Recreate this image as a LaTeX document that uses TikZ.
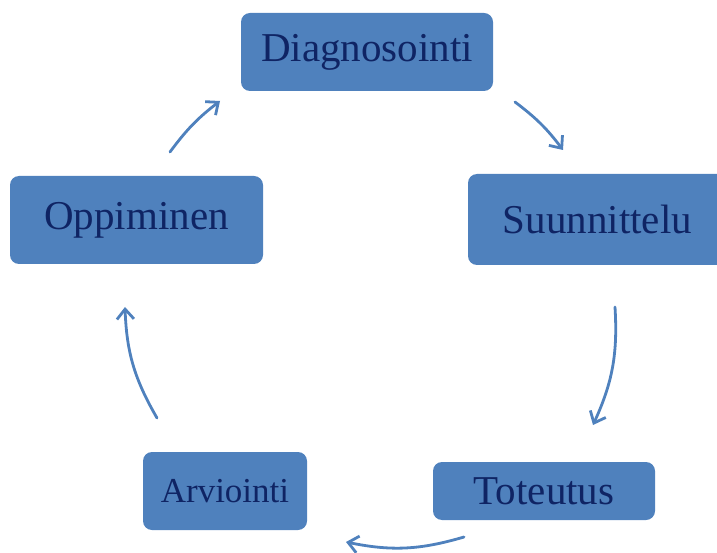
\documentclass[tikz,border=0pt]{standalone}
\usepackage{fontspec}
\setmainfont{Liberation Serif}
\usetikzlibrary{arrows.meta}

\definecolor{boxblue}{RGB}{79,129,189}
\definecolor{textnavy}{RGB}{15,36,100}

\begin{document}
\begin{tikzpicture}[x=1pt, y=1pt,
    phase/.style={fill=boxblue, rounded corners=9pt, text=textnavy,
        font=\fontsize{41}{41}\selectfont, inner sep=0pt},
    flow/.style={draw=boxblue, line width=2.8pt, line cap=round,
        -{Straight Barb[length=10pt, width=17pt]}}]
    \useasboundingbox (0,0) rectangle (717,552);

    % The five phases of the cycle
    \node[phase, minimum width=252pt, minimum height=78pt] (diag) at (367,500) {Diagnosointi};
    \node[phase, minimum width=259pt, minimum height=91pt] (suun) at (597.5,332.5) {Suunnittelu};
    \node[phase, minimum width=222pt, minimum height=58pt] (tot) at (544,61) {Toteutus};
    \node[phase, minimum width=164pt, minimum height=78pt,
        font=\fontsize{35}{35}\selectfont] (arv) at (225,61) {Arviointi};
    \node[phase, minimum width=253pt, minimum height=88pt] (opp) at (136.5,332) {Oppiminen};

    % Ends of the arrows, on a circle round the middle
    \coordinate (a1) at (515,450);  \coordinate (b1) at (563,402);
    \coordinate (a2) at (615,245);  \coordinate (b2) at (593,127);
    \coordinate (a3) at (464,15);   \coordinate (b3) at (346,10);
    \coordinate (a4) at (157,134);  \coordinate (b4) at (125,245);
    \coordinate (a5) at (170,400);  \coordinate (b5) at (220,451);

    % Arrows going round clockwise
    \draw[flow] (a1) to[bend left=8] (b1);
    \draw[flow] (a2) to[bend left=14] (b2);
    \draw[flow] (a3) to[bend left=14] (b3);
    \draw[flow] (a4) to[bend left=14] (b4);
    \draw[flow] (a5) to[bend left=8] (b5);
\end{tikzpicture}
\end{document}
